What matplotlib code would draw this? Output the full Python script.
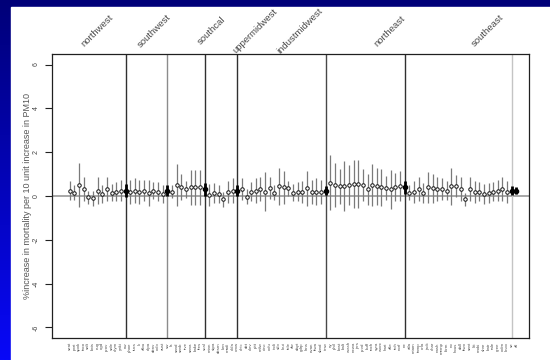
import numpy as np
import matplotlib
matplotlib.use("Agg")
import matplotlib.pyplot as plt
from matplotlib.colors import LinearSegmentedColormap
from matplotlib.patches import Rectangle

plt.rcParams["font.family"] = ["Liberation Sans", "DejaVu Sans"]

# regions in plotting order
regions = ["northwest", "southwest", "southcal", "uppermidwest",
           "industmidwest", "northeast", "southeast"]
region_codes = ["nw", "sw", "scal", "umw", "imw", "ne", "se"]

# city codes (x tick labels)
cities_nw = ["seat", "port", "spok", "taco", "salt", "bois",
             "eug", "ogd", "prov", "sale", "olym", "yaki"]
cities_sw = ["phoe", "tucs", "lv", "albu", "elpa", "denv", "colo", "aust"]
cities_scal = ["la", "sand", "sanb", "rive", "sana", "bake", "fres"]
cities_umw = ["minn", "stpa", "desm", "kan", "madi", "okla"]
cities_imw = ["chic", "det", "clev", "pitt", "milw", "cinc", "colu",
              "indi", "stlo", "loui", "tole", "akr", "dayt", "gdrp",
              "lans", "evan", "ftwa", "sbnd"]
cities_ne = ["ny", "phil", "bost", "balt", "wash", "newa", "jers",
             "prvd", "buff", "roch", "syra", "worc", "hart", "alle",
             "rich", "norf"]
cities_se = ["atla", "miam", "tamp", "orla", "jack", "char", "nash",
             "memp", "birm", "no", "hous", "dall", "ftwo", "sant",
             "litt", "mobi", "shre", "batr", "rale", "gree", "colm", "knox"]

# city estimates and half widths of 95% CI
est_nw = [0.25, 0.15, 0.50, 0.30, -0.05, -0.10, 0.25, 0.10, 0.30, 0.15, 0.20, 0.25]
hw_nw = [0.45, 0.35, 1.00, 0.55, 0.30, 0.35, 0.60, 0.40, 0.55, 0.40, 0.45, 0.50]
est_sw = [0.20, 0.25, 0.20, 0.25, 0.15, 0.25, 0.20, 0.10]
hw_sw = [0.55, 0.55, 0.55, 0.50, 0.60, 0.40, 0.45, 0.40]
est_scal = [0.20, 0.50, 0.40, 0.30, 0.40, 0.40, 0.40]
hw_scal = [0.30, 0.95, 0.60, 0.40, 0.80, 0.80, 0.80]
est_umw = [0.05, 0.15, 0.10, -0.15, 0.20, 0.25]
hw_umw = [0.50, 0.45, 0.40, 0.35, 0.50, 0.55]
est_imw = [0.30, -0.03, 0.20, 0.25, 0.30, 0.20, 0.35, 0.15, 0.45,
           0.40, 0.35, 0.15, 0.20, 0.20, 0.35, 0.20, 0.20, 0.20]
hw_imw = [0.50, 0.35, 0.45, 0.55, 0.55, 0.90, 0.50, 0.35, 0.85,
          0.75, 0.35, 0.40, 0.45, 0.50, 0.80, 0.55, 0.60, 0.55]
est_ne = [0.60, 0.50, 0.45, 0.45, 0.50, 0.55, 0.55, 0.50,
          0.30, 0.50, 0.45, 0.40, 0.35, 0.30, 0.40, 0.45]
hw_ne = [1.25, 1.00, 0.80, 1.15, 0.90, 1.10, 1.10, 0.75,
         0.70, 0.95, 0.85, 0.85, 0.55, 0.90, 0.65, 0.70]
est_se = [0.15, 0.20, 0.30, 0.15, 0.40, 0.35, 0.30, 0.30, 0.25, 0.45, 0.45,
          0.30, -0.15, 0.30, 0.20, 0.20, 0.10, 0.15, 0.20, 0.25, 0.30, 0.20]
hw_se = [0.35, 0.50, 0.55, 0.45, 0.70, 0.65, 0.55, 0.50, 0.45, 0.85, 0.50,
         0.55, 0.30, 0.55, 0.50, 0.45, 0.45, 0.45, 0.45, 0.50, 0.55, 0.50]

# regional pooled estimates + overall
region_est = [0.25, 0.25, 0.30, 0.25, 0.25, 0.40, 0.25]
region_hw = [0.30, 0.25, 0.30, 0.25, 0.20, 0.30, 0.20]
overall_est = 0.25
overall_hw = 0.15

city_lists = [cities_nw, cities_sw, cities_scal, cities_umw, cities_imw, cities_ne, cities_se]
est_lists = [est_nw, est_sw, est_scal, est_umw, est_imw, est_ne, est_se]
hw_lists = [hw_nw, hw_sw, hw_scal, hw_umw, hw_imw, hw_ne, hw_se]

sep_colors = ["#303030", "#8c8c8c", "#303030", "#303030", "#484848", "#303030", "#c4c4c4"]
label_x = [7.0, 19.2, 31.4, 40.8, 50.5, 69.8, 90.9]


def draw_background(fig):
    bg = fig.add_axes([0, 0, 1, 1], zorder=0)
    cmap = LinearSegmentedColormap.from_list("bl", ["#000078", "#0808f8"])
    grad = np.linspace(0, 1, 256).reshape(-1, 1)
    bg.imshow(grad, extent=[0, 1, 0, 1], aspect="auto", cmap=cmap, origin="upper")
    bg.add_patch(Rectangle((11 / 550, 0), 1, 1 - 7 / 360, color="white"))
    bg.set_xlim(0, 1)
    bg.set_ylim(0, 1)
    bg.axis("off")


def main():
    fig = plt.figure(figsize=(5.5, 3.6), dpi=100)
    draw_background(fig)
    ax = fig.add_axes([52 / 550, 22 / 360, 477 / 550, 284 / 360], zorder=1)
    ax.set_facecolor("none")

    ax.axhline(0, color="#a0a0a0", lw=1.3, zorder=1)

    pos = 1
    tick_pos, tick_lab = [], []
    for i in range(len(regions)):
        for name, e, h in zip(city_lists[i], est_lists[i], hw_lists[i]):
            ax.vlines(pos, e - h, e + h, color="#7a7a7a", lw=0.9, zorder=2)
            ax.plot(pos, e, "o", mfc="white", mec="#111111", ms=2.5, mew=0.7, zorder=3)
            tick_pos.append(pos)
            tick_lab.append(name)
            pos += 1
        # separator + regional estimate
        ax.axvline(pos, color=sep_colors[i], lw=1.0, zorder=1.5)
        ax.vlines(pos, region_est[i] - region_hw[i], region_est[i] + region_hw[i],
                  color="black", lw=2.0, zorder=4)
        ax.plot(pos, region_est[i], "o", color="black", ms=3.0, zorder=5)
        tick_pos.append(pos)
        tick_lab.append(region_codes[i])
        ax.text(label_x[i], 1.081, regions[i], transform=ax.get_xaxis_transform(),
                rotation=45, ha="center", va="center", fontsize=6.8, color="#484848")
        pos += 1

    ax.vlines(pos, overall_est - overall_hw, overall_est + overall_hw,
              color="black", lw=2.0, zorder=4)
    ax.plot(pos, overall_est, "o", color="black", ms=3.0, zorder=5)
    tick_pos.append(pos)
    tick_lab.append("all")

    ax.set_xlim(-2.8, 99.7)
    ax.set_ylim(-6.48, 6.48)

    ax.set_yticks([-6, -4, -2, 0, 2, 4, 6])
    ax.set_yticklabels(["-6", "-4", "-2", "0", "2", "4", "6"], rotation=90,
                       va="center", fontsize=5, color="#444444")
    ax.tick_params(axis="y", length=5, width=0.8, pad=4, color="#222222")

    ax.set_xticks(tick_pos)
    ax.set_xticklabels(tick_lab, rotation=90, fontsize=3.2, color="#555555")
    ax.tick_params(axis="x", length=0, pad=3)

    for sp in ax.spines.values():
        sp.set_color("#202020")
        sp.set_linewidth(0.9)

    fig.text(28 / 550, 1 - 196 / 360, "%increase in mortality per 10 unit increase in PM10",
             rotation=90, ha="center", va="center", fontsize=6.5, color="#555555")

    fig.savefig("out.png", dpi=100)


if __name__ == "__main__":
    main()
